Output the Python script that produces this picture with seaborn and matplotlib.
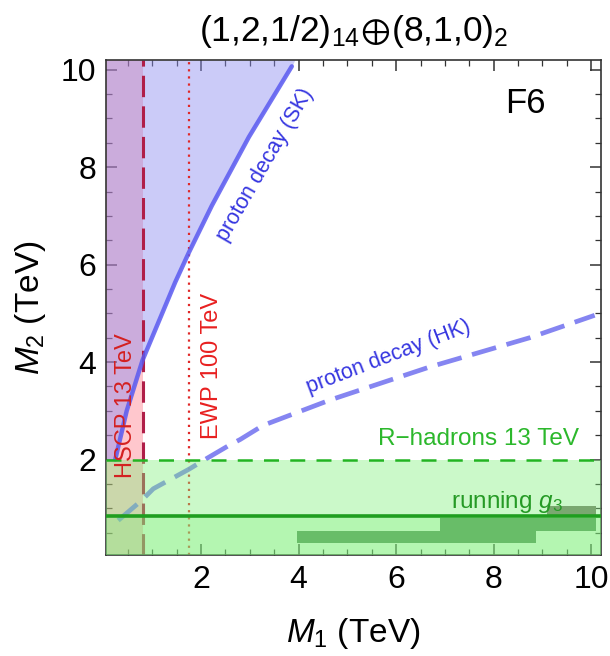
import numpy as np
import pandas as pd
import matplotlib
matplotlib.use("Agg")
import matplotlib.pyplot as plt
import seaborn as sns
from matplotlib.ticker import MultipleLocator

# ---------------- data (TeV) ----------------
sk_m1 = [0.24, 0.475, 0.80, 1.47, 1.75, 2.22, 2.98, 3.86, 3.92]
sk_m2 = [2.00, 3.00, 4.04, 5.64, 6.25, 7.21, 8.62, 10.07, 10.20]
hk_m1 = [0.30, 0.78, 1.02, 1.75, 2.08, 2.59, 2.80, 3.27, 4.64, 6.69, 8.74, 10.07]
hk_m2 = [0.75, 1.16, 1.40, 1.80, 2.00, 2.30, 2.41, 2.70, 3.22, 3.90, 4.50, 4.96]
hscp_m1 = 0.80
ewp_m1 = 1.75
rhad_m2 = 2.0
g3_m2 = 0.85
g3_box_x0 = [3.96, 6.90, 9.10]
g3_box_x1 = [8.86, 10.09, 10.09]
g3_box_y0 = [0.29, 0.53, 0.86]
g3_box_y1 = [0.53, 0.80, 1.05]
x_ticks = [2, 4, 6, 8, 10]
y_ticks = [2, 4, 6, 8, 10]
xlim = (0.05, 10.2)
ylim = (0.04, 10.2)

sk = pd.DataFrame({"M1": sk_m1, "M2": sk_m2})
hk = pd.DataFrame({"M1": hk_m1, "M2": hk_m2})

sns.set_theme(style="ticks")
plt.rcParams["font.family"] = ["Liberation Sans", "DejaVu Sans"]
plt.rcParams["mathtext.fontset"] = "custom"
plt.rcParams["mathtext.rm"] = "Liberation Sans"
plt.rcParams["mathtext.it"] = "Liberation Sans:italic"
plt.rcParams["mathtext.bf"] = "Liberation Sans:bold"
plt.rcParams["mathtext.fallback"] = "stixsans"
plt.rcParams["text.color"] = "black"
plt.rcParams["axes.labelcolor"] = "black"
plt.rcParams["xtick.color"] = "black"
plt.rcParams["ytick.color"] = "black"

fig = plt.figure(figsize=(6.10, 6.56), dpi=100)
ax = fig.add_axes([106 / 610, 101 / 656, 495 / 610, 495 / 656])
ax.set_xlim(*xlim)
ax.set_ylim(*ylim)

# shaded regions
ax.axvspan(xlim[0], hscp_m1, color="#ff6070", alpha=0.35, lw=0, zorder=1)
ax.fill_betweenx(sk["M2"], xlim[0], sk["M1"], color="#8c8cf0", alpha=0.45, lw=0, zorder=1.5)

# limit lines
ax.axvline(hscp_m1, color="#b01e48", lw=2.2, linestyle=(0, (7, 3.0)), zorder=2)
ax.axvline(ewp_m1, color="#e02828", lw=1.6, linestyle=(0, (1.0, 2.2)), zorder=2)
sns.lineplot(data=sk.iloc[:-1], x="M1", y="M2", sort=False, estimator=None,
             color="#5a5af0", lw=3.2, alpha=0.85, ax=ax, zorder=2.5)
sns.lineplot(data=hk, x="M1", y="M2", sort=False, estimator=None,
             color="#7878f0", lw=3.4, alpha=0.9, linestyle=(0, (5.3, 2.3)), ax=ax, zorder=2.5)

# green regions
ax.axhspan(ylim[0], rhad_m2, color="#7ff07a", alpha=0.40, lw=0, zorder=3)
ax.axhspan(ylim[0], g3_m2, color="#7ff07a", alpha=0.30, lw=0, zorder=3.1)
for x0, x1, y0, y1, c in zip(g3_box_x0, g3_box_x1, g3_box_y0, g3_box_y1,
                             ["#68bd68", "#68bd68", "#7aa870"]):
    ax.bar(x0, y1 - y0, width=x1 - x0, bottom=y0, align="edge", color=c, lw=0, zorder=3.5)

ax.axhline(rhad_m2, color="#22b422", lw=1.8, linestyle=(0, (6, 4.5)), zorder=4)
ax.axhline(g3_m2, color="#1f9e1f", lw=2.6, zorder=4)

# annotations
ax.text(3.31, 8.05, "proton decay (SK)", color="#3535e0", fontsize=15.5, rotation=60,
        ha="center", va="center", zorder=5)
ax.text(5.84, 4.11, "proton decay (HK)", color="#3535e0", fontsize=15.5, rotation=21,
        ha="center", va="center", zorder=5)
ax.text(0.47, 3.1, "HSCP 13 TeV", color="#d42020", fontsize=17, rotation=90,
        ha="center", va="center", zorder=5)
ax.text(2.22, 3.92, "EWP 100 TeV", color="#e82020", fontsize=17, rotation=90,
        ha="center", va="center", zorder=5)
ax.text(9.74, 2.29, "R\u2212hadrons 13 TeV", color="#2cb82c", fontsize=17.5,
        ha="right", va="baseline", zorder=5)
ax.text(9.42, 1.0, "running $g_3$", color="#259a25", fontsize=17.5,
        ha="right", va="baseline", zorder=5)
ax.text(8.64, 9.3, "F6", color="black", fontsize=25, ha="center", va="center", zorder=5)

# axes styling
ax.set_xticks(x_ticks)
ax.set_yticks(y_ticks)
ax.xaxis.set_minor_locator(MultipleLocator(0.5))
ax.yaxis.set_minor_locator(MultipleLocator(0.5))
ax.tick_params(which="both", direction="in", top=True, right=True, color="#333333")
ax.tick_params(which="major", length=8, width=1.1, labelsize=23, pad=7, labelcolor="black")
ax.tick_params(which="minor", length=4, width=0.9)
for s in ax.spines.values():
    s.set_color("#333333")
    s.set_linewidth(1.2)
ax.set_xlabel("$M_1$ (TeV)", fontsize=24)
ax.set_ylabel("$M_2$ (TeV)", fontsize=24)
ax.xaxis.set_label_coords(0.5, -0.123)
ax.yaxis.set_label_coords(-0.117, 0.5)
ax.set_title(r"(1,2,1/2)$_{14}\!\oplus\!$(8,1,0)$_2$", fontsize=25.5, pad=14, color="black")

fig.savefig("out.png", dpi=100)
